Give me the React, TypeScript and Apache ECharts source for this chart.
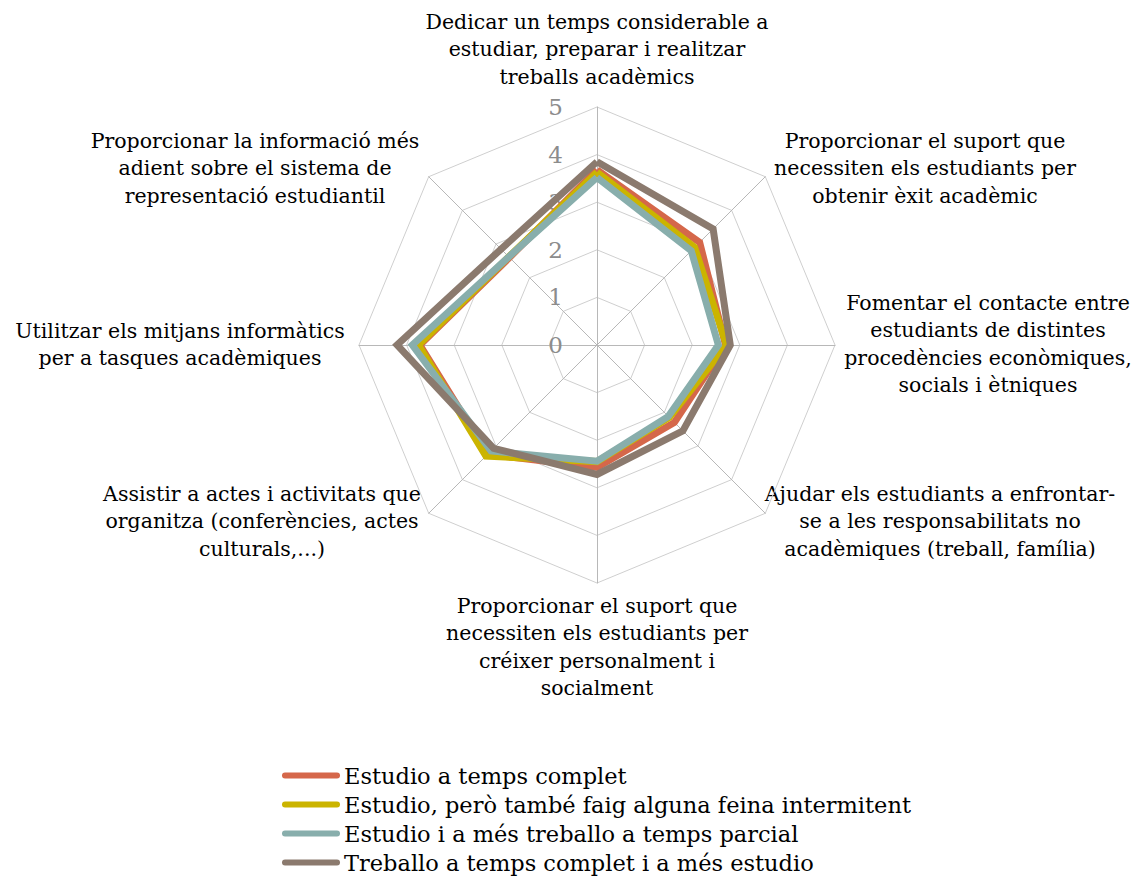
import React, { useEffect, useRef } from "react";
import * as echarts from "echarts";

// Categories in clockwise order, starting at the top
const categories: string[] = [
  "Dedicar un temps considerable a\nestudiar, preparar i realitzar\ntreballs acadèmics",
  "Proporcionar el suport que\nnecessiten els estudiants per\nobtenir èxit acadèmic",
  "Fomentar el contacte entre\nestudiants de distintes\nprocedències econòmiques,\nsocials i ètniques",
  "Ajudar els estudiants a enfrontar-\nse a les responsabilitats no\nacadèmiques (treball, família)",
  "Proporcionar el suport que\nnecessiten els estudiants per\ncréixer personalment i\nsocialment",
  "Assistir a actes i activitats que\norganitza (conferències, actes\nculturals,...)",
  "Utilitzar els mitjans informàtics\nper a tasques acadèmiques",
  "Proporcionar la informació més\nadient sobre el sistema de\nrepresentació estudiantil",
];

const seriesNames: string[] = [
  "Estudio a temps complet",
  "Estudio, però també faig alguna feina intermitent",
  "Estudio i a més treballo a temps parcial",
  "Treballo a temps complet i a més estudio",
];

const tempsComplet: number[] = [3.68, 3.05, 2.7, 2.3, 2.57, 3.25, 3.72, 2.6];
const feinaIntermitent: number[] = [3.63, 2.9, 2.72, 2.15, 2.45, 3.3, 3.75, 2.62];
const tempsParcial: number[] = [3.52, 2.8, 2.55, 2.12, 2.44, 3.15, 3.88, 2.62];
const treballoComplet: number[] = [3.85, 3.45, 2.8, 2.55, 2.72, 3.07, 4.2, 2.85];

const seriesColors: string[] = ["#D5674A", "#CBB400", "#88AEAC", "#8B7A6E"];

const maxValue = 5;

// label anchor positions (page layout), one per category (clockwise)
const labelPos: [number, number][] = [
  [597, 8],
  [925, 127],
  [988, 289],
  [940, 480],
  [597, 592],
  [262, 480],
  [180, 317],
  [255, 127],
];

const FONT = "'DejaVu Serif', Georgia, serif";

export default function App() {
  const ref = useRef<HTMLDivElement>(null);
  useEffect(() => {
    if (!ref.current) return;
    const chart = echarts.init(ref.current, null, { renderer: "svg" });
    const n = categories.length;
    // ECharts radar lays indicators counter-clockwise; reorder to draw clockwise
    const order = Array.from({ length: n }, (_, i) => (n - i) % n);
    const indicator = order.map((idx, k) => ({
      name: categories[idx],
      max: maxValue,
      min: 0,
      ...(k === 0
        ? {
            axisLabel: {
              show: true,
              color: "#8c8c8c",
              fontSize: 23,
              fontFamily: FONT,
              margin: 34,
            },
          }
        : {}),
    }));
    const all = [tempsComplet, feinaIntermitent, tempsParcial, treballoComplet];
    const option: any = {
      animation: false,
      color: seriesColors,
      legend: {
        orient: "vertical",
        left: 277,
        top: 759,
        itemWidth: 58,
        itemHeight: 6,
        itemGap: 6,
        icon: "path://M3,0 L55,0 A3,3 0 0 1 55,6 L3,6 A3,3 0 0 1 3,0 Z",
        textStyle: {
          fontFamily: FONT,
          fontSize: 22.5,
          color: "#000",
          lineHeight: 23,
          padding: [0, 0, 0, -1],
        },
        data: seriesNames,
      },
      radar: {
        center: [597, 345],
        radius: 238,
        startAngle: 90,
        splitNumber: 5,
        shape: "polygon",
        indicator,
        axisName: { show: false },
        axisLabel: { show: false },
        axisTick: { show: false },
        axisLine: { lineStyle: { color: "#b8b8b8", width: 1 } },
        splitLine: { lineStyle: { color: "#cfcfcf", width: 1 } },
        splitArea: { show: false },
      },
      series: [
        {
          type: "radar",
          symbol: "none",
          data: all.map((vals, i) => ({
            name: seriesNames[i],
            value: order.map((idx) => vals[idx]),
            itemStyle: { color: seriesColors[i] },
            lineStyle: { color: seriesColors[i], width: 7, join: "miter" },
          })),
        },
      ],
      graphic: categories.map((txt, i) => ({
        type: "text",
        x: labelPos[i][0],
        y: labelPos[i][1],
        style: {
          text: txt,
          fill: "#000",
          fontSize: 20.5,
          fontFamily: FONT,
          align: "center",
          verticalAlign: "top",
          lineHeight: 27.5,
        },
      })),
    };
    chart.setOption(option);
    return () => chart.dispose();
  }, []);
  return (
    <div
      ref={ref}
      style={{ position: "fixed", left: 0, top: 0, width: 1136, height: 887, background: "#fff" }}
    />
  );
}
